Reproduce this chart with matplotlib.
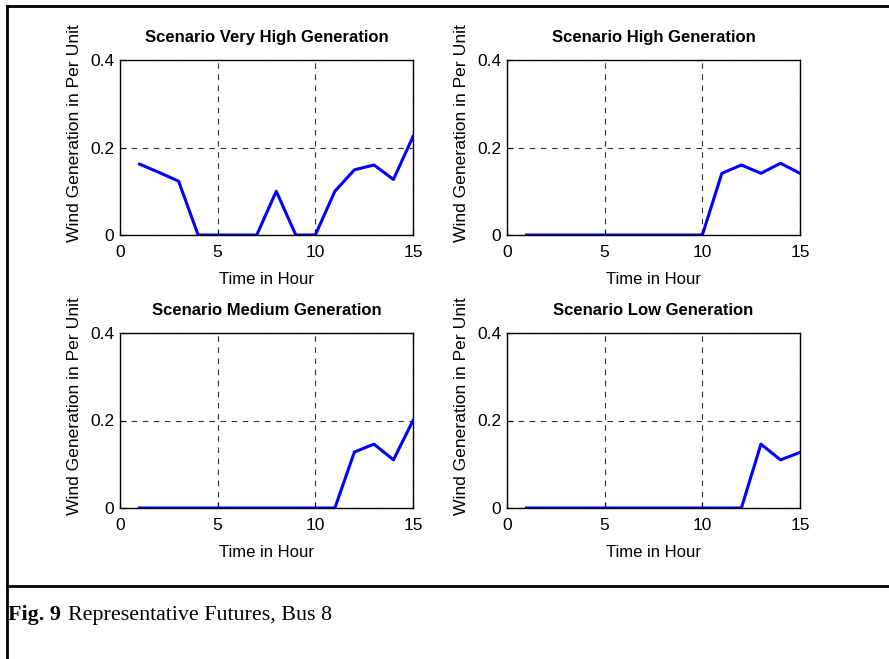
import matplotlib
matplotlib.use("Agg")
import matplotlib.pyplot as plt
from matplotlib.lines import Line2D

# Wind generation scenarios (per unit) for hours 1..15
hours = list(range(1, 16))
very_high = [0.162, 0.143, 0.123, 0, 0, 0, 0, 0.100, 0, 0, 0.100, 0.149, 0.160, 0.127, 0.225]
high = [0, 0, 0, 0, 0, 0, 0, 0, 0, 0, 0.141, 0.160, 0.141, 0.164, 0.141]
medium = [0, 0, 0, 0, 0, 0, 0, 0, 0, 0, 0, 0.128, 0.146, 0.110, 0.200]
low = [0, 0, 0, 0, 0, 0, 0, 0, 0, 0, 0, 0, 0.146, 0.110, 0.127]

titles = ["Scenario Very High Generation", "Scenario High Generation",
          "Scenario Medium Generation", "Scenario Low Generation"]
series = [very_high, high, medium, low]

x_ticks = [0, 5, 10, 15]
y_ticks = [0, 0.2, 0.4]
y_tick_labels = ["0", "0.2", "0.4"]

W, H = 889, 659
sans = ["Liberation Sans", "DejaVu Sans"]
serif = ["Liberation Serif", "DejaVu Serif"]

fig = plt.figure(figsize=(W / 100, H / 100), dpi=100)

# axes boxes in pixels: (left, top, right, bottom)
boxes = [(120, 60, 413, 235), (507, 60, 800, 235),
         (120, 333, 413, 508), (507, 333, 800, 508)]

for (l, t, r, b), title, vals in zip(boxes, titles, series):
    ax = fig.add_axes([l / W, 1 - b / H, (r - l) / W, (b - t) / H])
    ax.plot(hours, vals, color="#0000ff", linewidth=2.2)
    ax.set_xlim(0, 15)
    ax.set_ylim(0, 0.4)
    ax.set_xticks(x_ticks)
    ax.set_yticks(y_ticks)
    ax.set_yticklabels(y_tick_labels)
    ax.tick_params(direction="in", length=4, width=0.8, labelsize=12.5)
    ax.tick_params(axis="x", pad=7)
    ax.tick_params(axis="y", pad=4)
    for lab in ax.get_xticklabels() + ax.get_yticklabels():
        lab.set_family(sans)
    ax.grid(True, color="#333333", linestyle=(0, (5, 5)), linewidth=0.8)
    for sp in ax.spines.values():
        sp.set_linewidth(1.0)
    ax.set_title(title, fontsize=12, fontweight="bold", family=sans, pad=13)
    ax.set_xlabel("Time in Hour", fontsize=12, family=sans, labelpad=9)
    ax.set_ylabel("Wind Generation in Per Unit", fontsize=12.6, family=sans)
    ax.yaxis.set_label_coords(-0.13, 0.583)

# outer frame and caption separator
lw = 2
fig.add_artist(Line2D([7 / W, 1], [1 - 6 / H, 1 - 6 / H], color="black", linewidth=lw, transform=fig.transFigure))
fig.add_artist(Line2D([7 / W, 7 / W], [0, 1 - 6 / H], color="black", linewidth=lw, transform=fig.transFigure))
fig.add_artist(Line2D([7 / W, 1], [1 - 586 / H, 1 - 586 / H], color="black", linewidth=lw, transform=fig.transFigure))

fig.text(8 / W, 1 - 620 / H, "Fig. 9", fontsize=15.8, fontweight="bold", family=serif, va="baseline", ha="left")
fig.text(68 / W, 1 - 620 / H, "Representative Futures, Bus 8", fontsize=15.8, family=serif, va="baseline", ha="left")

fig.savefig("out.png", dpi=100)
